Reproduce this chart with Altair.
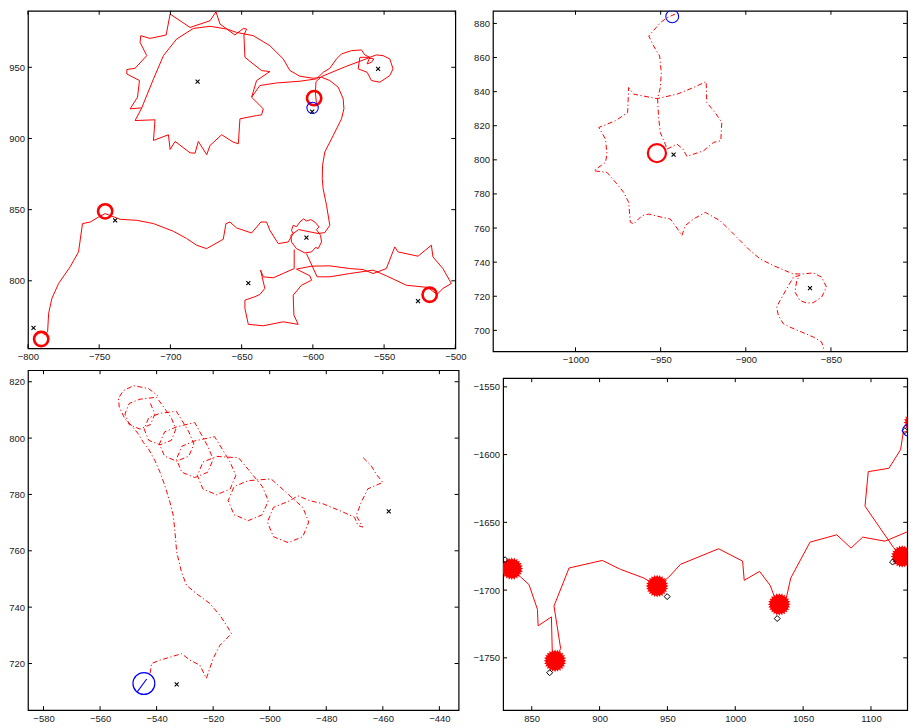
import altair as alt
import numpy as np
import pandas as pd

RED = "#ff0000"
BLUE = "#0000ff"
BLACK = "#000000"
FONT = "Liberation Sans"

# ---------------- Panel 1 (top left) ----------------
P1_SEG1 = [(-789.0, 762.0), (-786.2, 764.2), (-785.5, 777.1), (-783.2, 787.6), (-778.5, 798.1), (-770.4, 809.8),
           (-764.5, 820.3), (-761.7, 840.2), (-756.3, 841.3), (-750.5, 844.8), (-745.8, 847.2), (-735.3, 843.2),
           (-723.6, 842.5), (-711.9, 840.2), (-697.9, 834.8), (-688.6, 829.7), (-681.6, 825.0), (-674.6, 822.6),
           (-662.9, 829.2), (-661.0, 840.2), (-658.2, 841.3), (-653.5, 837.1), (-643.0, 833.6), (-636.5, 841.3),
           (-632.5, 841.3), (-630.2, 835.5), (-624.3, 826.1), (-617.3, 827.3), (-613.8, 833.2), (-615.0, 835.5),
           (-613.8, 839.0), (-611.5, 838.0), (-609.1, 841.3), (-606.5, 843.5), (-604.5, 842.0), (-601.5, 843.0),
           (-598.6, 841.3), (-595.6, 837.8), (-597.5, 836.0), (-594.6, 832.0), (-593.9, 827.3), (-596.3, 822.6),
           (-598.0, 823.5), (-600.9, 820.3), (-605.6, 819.6), (-611.5, 822.6), (-615.0, 827.3), (-615.4, 832.0)]
P1_SEG2 = [(-615.4, 832.0), (-610.0, 836.0), (-596.3, 833.2), (-591.6, 833.9), (-588.1, 839.0), (-590.4, 853.0),
           (-592.8, 864.7), (-593.4, 871.8), (-593.2, 881.1), (-591.6, 890.5), (-585.7, 902.1), (-579.9, 913.8),
           (-578.2, 920.8), (-578.7, 927.8), (-582.2, 936.0), (-588.1, 940.7), (-593.9, 943.0), (-599.7, 942.3),
           (-609.1, 943.7), (-616.1, 947.7), (-620.8, 955.9), (-630.2, 965.2), (-641.8, 972.2), (-653.5, 974.5),
           (-660.5, 976.9), (-672.2, 978.8), (-683.9, 977.3), (-695.6, 969.9), (-704.9, 958.2), (-711.9, 941.8),
           (-719.0, 924.3), (-720.1, 921.5), (-728.3, 920.8), (-723.1, 929.0), (-721.7, 940.7), (-730.6, 945.3),
           (-730.6, 948.4), (-724.8, 949.3), (-716.6, 958.2), (-721.3, 967.5), (-720.8, 972.2), (-714.3, 970.3),
           (-703.0, 972.7), (-700.2, 987.4), (-686.2, 978.0), (-672.2, 982.7), (-668.0, 989.0), (-665.2, 980.4),
           (-654.7, 972.7), (-648.8, 977.3), (-646.5, 976.9), (-648.4, 972.7), (-647.7, 957.0), (-636.0, 947.7),
           (-630.2, 947.0), (-639.5, 940.7), (-643.0, 929.0), (-634.8, 920.8), (-636.0, 916.6), (-639.5, 916.1),
           (-651.2, 913.8), (-652.3, 896.3), (-655.9, 897.4), (-664.0, 902.6), (-672.2, 895.1), (-674.5, 888.6),
           (-680.4, 897.9), (-682.7, 889.7), (-686.2, 889.9), (-696.7, 897.9), (-700.2, 892.3), (-701.4, 902.6),
           (-711.9, 898.6), (-710.8, 913.1), (-724.8, 912.6), (-720.1, 921.5)]
P1_SEG3 = [(-643.0, 929.0), (-637.2, 937.2), (-625.5, 939.0), (-609.1, 940.2), (-597.4, 941.9), (-592.7, 946.5),
           (-588.1, 949.3), (-583.4, 955.9), (-579.9, 959.4), (-572.9, 961.7), (-565.9, 962.2), (-563.5, 958.7),
           (-560.0, 957.0), (-567.0, 957.0), (-568.2, 948.9), (-561.9, 946.5), (-558.9, 940.7), (-553.0, 939.5),
           (-546.0, 944.2), (-543.7, 948.9), (-546.0, 955.9), (-550.7, 958.2), (-555.4, 958.7), (-560.0, 957.0),
           (-561.9, 952.4), (-558.9, 953.5), (-557.2, 955.9), (-561.0, 956.5), (-577.0, 950.5), (-593.9, 943.5),
           (-597.8, 940.0), (-598.2, 932.0), (-597.5, 925.0)]
P1_SEG4 = [(-613.1, 822.0), (-613.1, 808.6), (-627.8, 802.1), (-634.8, 802.8), (-636.7, 807.5), (-633.7, 794.6),
           (-637.2, 790.4), (-640.7, 788.8), (-647.7, 786.4), (-647.7, 780.6), (-645.3, 769.4), (-634.8, 768.4),
           (-620.8, 771.2), (-610.3, 769.4), (-613.3, 775.9), (-613.8, 789.9), (-608.0, 796.9), (-600.9, 800.4),
           (-602.1, 803.5), (-611.5, 808.2), (-600.9, 810.3), (-588.1, 810.5), (-574.1, 808.6), (-564.7, 807.9),
           (-557.7, 805.1), (-548.4, 808.6), (-542.5, 823.8), (-540.2, 820.3), (-526.2, 817.3), (-516.8, 825.0),
           (-515.7, 816.8), (-508.7, 808.6), (-502.8, 798.1), (-508.7, 794.6), (-512.9, 790.4)]
P1_SEG5 = [(-512.9, 790.4), (-519.2, 795.3), (-534.4, 796.9), (-548.4, 803.5), (-557.7, 807.5), (-574.1, 805.1),
           (-588.1, 802.8), (-597.0, 802.8), (-604.5, 819.1)]
P1_RED_X = [-790.7, -745.8, -599.1, -518.0]
P1_RED_Y = [759.1, 848.8, 928.3, 790.2]
P1_BLUE_X = [-600.2]
P1_BLUE_Y = [921.5]
P1_CROSS_X = [-680.9, -554.2, -600.5, -604.5, -645.3, -738.8, -796.1, -526.2]
P1_CROSS_Y = [940.0, 948.9, 918.8, 830.4, 798.3, 842.5, 767.0, 785.7]

# ---------------- Panel 2 (top right) ----------------
P2_SEG1 = [(-941.5, 885.5), (-946.3, 883.3), (-950.2, 880.4), (-957.0, 872.6), (-954.1, 866.7), (-950.6, 860.9),
           (-949.6, 851.1), (-950.2, 842.4), (-951.8, 835.9), (-951.2, 824.8), (-950.2, 816.0), (-947.3, 809.2),
           (-946.3, 806.3)]
P2_SEG2 = [(-946.3, 806.3), (-940.4, 809.2), (-936.9, 806.3), (-934.6, 802.0), (-924.8, 805.3), (-919.0, 810.2),
           (-914.7, 811.2), (-914.1, 821.9), (-918.0, 827.7), (-922.9, 833.6), (-923.3, 845.9), (-930.7, 842.4),
           (-940.4, 838.5), (-952.2, 835.9), (-965.8, 838.5), (-968.8, 842.4), (-969.4, 827.7), (-976.6, 822.9),
           (-986.3, 819.0), (-982.4, 812.1), (-981.5, 803.4), (-982.4, 798.5), (-989.3, 793.6), (-981.5, 792.6),
           (-975.6, 785.8), (-971.7, 780.9), (-968.8, 775.1), (-967.8, 763.4), (-965.8, 762.4), (-961.0, 767.3),
           (-957.0, 768.2), (-949.2, 766.3), (-944.4, 765.3), (-941.4, 761.4), (-937.5, 755.6), (-935.6, 761.4),
           (-930.7, 765.3), (-923.8, 769.2), (-915.1, 764.3), (-909.2, 758.5), (-903.3, 752.6), (-897.5, 746.8),
           (-891.6, 741.9), (-883.8, 738.0), (-877.0, 735.1), (-872.1, 733.1), (-866.2, 733.1), (-860.4, 733.7),
           (-855.5, 731.2), (-852.6, 725.3), (-855.5, 719.5), (-860.4, 716.2), (-864.3, 716.0), (-868.2, 717.5),
           (-871.1, 722.4), (-870.1, 729.2), (-868.2, 732.2), (-872.1, 731.2), (-876.0, 724.4), (-879.9, 717.5),
           (-881.9, 713.6), (-880.9, 708.8), (-878.0, 703.9), (-874.1, 701.9), (-867.2, 699.0), (-860.4, 696.1),
           (-855.5, 693.2), (-854.5, 690.2), (-853.5, 686.0)]
P2_RED_X = [-952.2]
P2_RED_Y = [803.9]
P2_BLUE_X = [-943.2]
P2_BLUE_Y = [884.1]
P2_CROSS_X = [-942.4, -862.3]
P2_CROSS_Y = [803.0, 724.8]

# ---------------- Panel 3 (bottom left) ----------------
P3_TAIL = [(-542.3, 716.5), (-541.8, 720.0), (-538.8, 721.2), (-534.7, 722.4), (-531.2, 723.5), (-528.2, 721.2),
           (-524.7, 719.4), (-522.4, 714.7), (-520.0, 721.8), (-517.6, 726.5), (-513.5, 730.6), (-515.3, 733.6),
           (-517.6, 737.1), (-521.2, 741.3), (-525.9, 744.8), (-529.4, 747.7), (-531.2, 752.5), (-532.9, 759.6),
           (-533.5, 766.6), (-534.1, 772.5), (-535.3, 777.3), (-537.1, 783.2), (-538.8, 787.9), (-540.6, 792.0),
           (-542.9, 796.2), (-544.7, 798.5), (-546.5, 801.5), (-548.8, 804.4), (-551.2, 806.8), (-553.2, 810.9),
           (-553.5, 814.1), (-551.8, 816.8), (-548.2, 818.6), (-542.9, 817.6), (-539.5, 815.0)]
P3_LOOPS = [(-542.2, 812.3), (-540.6, 808.5), (-542.2, 804.8), (-545.9, 803.2), (-549.7, 804.8), (-551.2, 808.5),
            (-549.7, 812.3), (-545.9, 813.8), (-540.0, 814.5),
            (-534.8, 807.2), (-533.2, 803.2), (-534.8, 799.2), (-538.8, 797.6), (-542.8, 799.2), (-544.4, 803.2),
            (-542.8, 807.2), (-538.8, 808.8), (-533.0, 809.5),
            (-528.6, 802.2), (-526.8, 797.9), (-528.6, 793.6), (-532.9, 791.8), (-537.2, 793.6), (-539.0, 797.9),
            (-537.2, 802.2), (-532.9, 804.0), (-526.5, 805.5),
            (-521.9, 797.1), (-520.0, 792.5), (-521.9, 787.9), (-526.5, 786.0), (-531.1, 787.9), (-533.0, 792.5),
            (-531.1, 797.1), (-526.5, 799.0), (-519.5, 800.5),
            (-514.0, 791.5), (-512.0, 786.7), (-514.0, 781.9), (-518.8, 779.9), (-523.6, 781.9), (-525.6, 786.7),
            (-523.6, 791.5), (-518.8, 793.5), (-511.0, 793.0),
            (-502.6, 782.8), (-500.5, 777.8), (-502.6, 772.8), (-507.6, 770.7), (-512.6, 772.8), (-514.7, 777.8),
            (-512.6, 782.8), (-507.6, 784.9), (-499.5, 785.5),
            (-488.3, 775.4), (-486.2, 770.2), (-488.3, 765.0), (-493.5, 762.9), (-498.7, 765.0), (-500.8, 770.2),
            (-498.7, 775.4), (-493.5, 777.5), (-490.0, 779.5),
            (-485.9, 777.8), (-481.2, 776.7), (-475.3, 774.3), (-470.0, 771.9), (-468.8, 769.0), (-467.1, 768.4),
            (-469.4, 772.5), (-467.6, 777.3), (-465.3, 782.0), (-460.0, 784.3), (-462.4, 787.3), (-464.1, 790.2),
            (-467.1, 793.2)]
P3_BLUE_LINE = [(-546.8, 710.0), (-543.5, 714.5)]
P3_BLUE_X = [-544.5]
P3_BLUE_Y = [712.9]
P3_CROSS_X = [-457.9, -532.9]
P3_CROSS_Y = [774.0, 712.6]

# ---------------- Panel 4 (bottom right) ----------------
P4_SEG1 = [(835.3, -1684.2), (841.9, -1690.4), (848.0, -1696.0), (854.2, -1714.2), (854.7, -1726.4),
           (864.5, -1719.8), (865.2, -1748.0), (867.2, -1752.2), (871.3, -1743.1), (866.4, -1711.7),
           (877.5, -1683.7), (902.0, -1678.1), (915.4, -1684.7), (932.6, -1691.1), (942.4, -1697.0),
           (951.0, -1690.4), (959.6, -1681.0), (987.7, -1669.5), (1005.4, -1678.6), (1006.6, -1692.8),
           (1017.9, -1686.2), (1025.7, -1696.5), (1029.4, -1706.3), (1032.4, -1710.5), (1037.5, -1706.3),
           (1040.9, -1691.1), (1055.1, -1664.6), (1074.8, -1659.2), (1085.3, -1669.0), (1093.9, -1660.9),
           (1110.3, -1663.9), (1127.5, -1656.7), (1128.2, -1670.7), (1123.0, -1675.2), (1116.4, -1668.3),
           (1095.6, -1638.1), (1098.0, -1612.6), (1113.2, -1610.1), (1121.8, -1596.4), (1123.8, -1583.6),
           (1127.5, -1582.4), (1131.1, -1577.5)]
P4_BLOB_X = [835.3, 867.2, 942.4, 1032.4, 1123.0, 1132.4]
P4_BLOB_Y = [-1684.2, -1752.2, -1697.0, -1710.5, -1675.2, -1576.3]
P4_DIAM_X = [830.4, 863.2, 949.8, 1030.9, 1115.9, 1125.0]
P4_DIAM_Y = [-1677.6, -1761.0, -1704.8, -1721.0, -1679.3, -1582.4]
P4_BLUE_X = [1127.5]
P4_BLUE_Y = [-1582.1]


def seg_df(segs):
    rows = []
    for s, pts in enumerate(segs):
        for i, (x, y) in enumerate(pts):
            rows.append({"x": x, "y": y, "seg": s, "i": i})
    return pd.DataFrame(rows)


def pts_df(xs, ys):
    return pd.DataFrame({"x": xs, "y": ys})


XMARK = "M-1,-1L1,1M-1,1L1,-1"
_ang = np.linspace(0, 2 * np.pi, 49)[:-1]
_rad = np.where(np.arange(48) % 2 == 0, 1.0, 0.8)
STAR = "M" + "L".join(f"{r * np.cos(a):.3f},{r * np.sin(a):.3f}" for r, a in zip(_rad, _ang)) + "Z"

AX = dict(ticks=False, domain=False, grid=False, title=None, format="d", minExtent=0,
          labelFont=FONT, labelFontSize=9.5, labelColor="#1a1a1a", labelPadding=3.5, labelFlush=False)
TICK = 4

CROSS = dict(shape=XMARK, filled=False, color=BLACK, strokeWidth=1.1, size=16, opacity=1)


def panel(segs, xdom, ydom, xticks, yticks, w, h, markers, dash=None, extra_lines=()):
    xs = alt.Scale(domain=xdom, nice=False, zero=False)
    ys = alt.Scale(domain=ydom, nice=False, zero=False)
    mk = dict(color=RED, strokeWidth=1, clip=True)
    if dash:
        mk["strokeDash"] = dash
    layers = [alt.Chart(seg_df(segs)).mark_line(**mk).encode(
        x=alt.X("x:Q", scale=xs, axis=alt.Axis(orient="bottom", values=xticks, **AX)),
        y=alt.Y("y:Q", scale=ys, axis=alt.Axis(orient="left", values=yticks, **AX)),
        detail="seg:N", order="i:Q")]
    for pts, color in extra_lines:
        layers.append(alt.Chart(seg_df([pts])).mark_line(color=color, strokeWidth=1.1, clip=True).encode(
            x=alt.X("x:Q", scale=xs, axis=None), y=alt.Y("y:Q", scale=ys, axis=None),
            detail="seg:N", order="i:Q"))
    for df, kw in markers:
        layers.append(alt.Chart(df).mark_point(clip=True, **kw).encode(
            x=alt.X("x:Q", scale=xs, axis=None), y=alt.Y("y:Q", scale=ys, axis=None)))
    # inward tick marks on all four sides (MATLAB box style)
    xt = pd.DataFrame({"v": xticks})
    yt = pd.DataFrame({"v": yticks})
    for y0, y1 in ((0, TICK), (h - TICK, h)):
        layers.append(alt.Chart(xt).mark_rule(color=BLACK, strokeWidth=1).encode(
            x=alt.X("v:Q", scale=xs, axis=None), y=alt.value(y0), y2=alt.value(y1)))
    for x0, x1 in ((0, TICK), (w - TICK, w)):
        layers.append(alt.Chart(yt).mark_rule(color=BLACK, strokeWidth=1).encode(
            y=alt.Y("v:Q", scale=ys, axis=None), x=alt.value(x0), x2=alt.value(x1)))
    return alt.layer(*layers).resolve_axis(x="independent", y="independent").properties(width=w, height=h)


def spacer(h):
    return alt.Chart(pts_df([0], [0])).mark_point(opacity=0, size=0).encode(
        x=alt.X("x:Q", axis=None), y=alt.Y("y:Q", axis=None)
    ).properties(width=10, height=h, view=alt.ViewBackground(strokeOpacity=0, strokeWidth=0))


p1 = panel([P1_SEG1, P1_SEG2, P1_SEG3, P1_SEG4, P1_SEG5], [-800, -500], [752.55, 989.7],
           [-800, -750, -700, -650, -600, -550, -500], [800, 850, 900, 950], 428.3, 338.3,
           [(pts_df(P1_RED_X, P1_RED_Y), dict(shape="circle", filled=False, color=RED, strokeWidth=2.6, size=205, opacity=1)),
            (pts_df(P1_BLUE_X, P1_BLUE_Y), dict(shape="circle", filled=False, color=BLUE, strokeWidth=1.1, size=130, opacity=1)),
            (pts_df(P1_CROSS_X, P1_CROSS_Y), CROSS)])

p2 = panel([P2_SEG1, P2_SEG2], [-1048.5, -805.34], [687.7, 887.4],
           [-1000, -950, -900, -850], [700, 720, 740, 760, 780, 800, 820, 840, 860, 880], 415, 341.3,
           [(pts_df(P2_RED_X, P2_RED_Y), dict(shape="circle", filled=False, color=RED, strokeWidth=2.2, size=330, opacity=1)),
            (pts_df(P2_BLUE_X, P2_BLUE_Y), dict(shape="circle", filled=False, color=BLUE, strokeWidth=1.1, size=165, opacity=1)),
            (pts_df(P2_CROSS_X, P2_CROSS_Y), CROSS)],
           dash=[5, 2.5, 1.2, 2.5])

p3 = panel([P3_TAIL, P3_LOOPS], [-585.5, -433.2], [703.45, 824.1],
           [-580, -560, -540, -520, -500, -480, -460, -440], [720, 740, 760, 780, 800, 820], 431.6, 340.7,
           [(pts_df(P3_BLUE_X, P3_BLUE_Y), dict(shape="circle", filled=False, color=BLUE, strokeWidth=1.2, size=480, opacity=1)),
            (pts_df(P3_CROSS_X, P3_CROSS_Y), CROSS)],
           dash=[5, 2.5, 1.2, 2.5], extra_lines=[(P3_BLUE_LINE, BLUE)])

p4 = panel([P4_SEG1], [828.9, 1126.7], [-1788.6, -1543.6],
           [850, 900, 950, 1000, 1050, 1100], [-1750, -1700, -1650, -1600, -1550], 405, 332.7,
           [(pts_df(P4_BLOB_X, P4_BLOB_Y), dict(shape=STAR, filled=True, color=RED, size=520, opacity=1)),
            (pts_df(P4_BLOB_X, P4_BLOB_Y), dict(shape="circle", filled=True, color=RED, size=340, opacity=1)),
            (pts_df(P4_DIAM_X, P4_DIAM_Y), dict(shape="diamond", filled=False, color=BLACK, strokeWidth=1, size=36, opacity=1)),
            (pts_df(P4_BLUE_X, P4_BLUE_Y), dict(shape="circle", filled=False, color=BLUE, strokeWidth=1.1, size=128, opacity=1))])

chart = alt.vconcat(
    alt.hconcat(p1, p2, spacing=6.0),
    alt.hconcat(p3, alt.vconcat(spacer(6), p4, spacing=0), spacing=12.2),
    spacing=3.2,
).properties(padding=0, background="white").configure_view(stroke=BLACK, strokeWidth=1.2)

chart.save("out.html", embed_options={"renderer": "svg", "actions": False})
